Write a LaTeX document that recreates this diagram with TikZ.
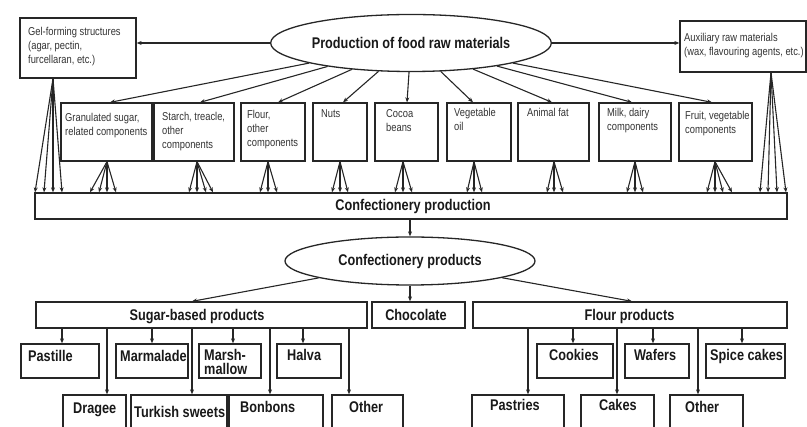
\documentclass[tikz,border=0pt]{standalone}
\usepackage{fontspec}
\setmainfont{Liberation Sans}
\newfontfamily\nsans{Liberation Sans}[FakeStretch=0.82]
\usetikzlibrary{arrows.meta,shapes.geometric,fit}
\tikzset{
  bx/.style={draw=black!85, line width=1.3pt, inner sep=0pt},
  arr/.style={draw=black!85, line width=1.1pt, -{Stealth[length=5pt,width=4pt]}},
  small/.style={font=\nsans\fontsize{11.4}{14}\selectfont, inner sep=0pt, align=left, anchor=north west, text=black!80},
  big/.style={font=\nsans\bfseries\fontsize{15.5}{14}\selectfont, inner sep=0pt, text=black!90},
  ell/.style={ellipse, draw=black!85, line width=1.3pt, inner sep=0pt}
}
\newcommand\bxn[5]{\node[bx, fit={(#2,#3) (#4,#5)}] (#1) {};}
\begin{document}
\begin{tikzpicture}[x=1pt,y=-1pt]
\useasboundingbox (0,0) rectangle (807,427);
\clip (0,0) rectangle (807,427);
% top ellipse
\node[ell, big, minimum width=279pt, minimum height=57pt] (pe) at (411,43) {Production of food raw materials};
% side boxes
\bxn{gel}{20}{18}{136}{78}
\bxn{aux}{680}{21}{806}{72}
\node[small] (tgel) at (28,27.5) {Gel-forming structures\\(agar, pectin,\\furcellaran, etc.)};
\node[small] (taux) at (684,33.5) {Auxiliary raw materials\\(wax, flavouring agents, etc.)};
% raw material boxes
\bxn{r1}{61}{103}{152}{161}
\bxn{r2}{154}{103}{234}{161}
\bxn{r3}{241}{103}{305}{161}
\bxn{r4}{313}{103}{367}{161}
\bxn{r5}{375}{103}{438}{161}
\bxn{r6}{447}{103}{511}{161}
\bxn{r7}{518}{103}{589}{161}
\bxn{r8}{599}{103}{671}{161}
\bxn{r9}{679}{103}{752}{161}
\node[small] (t1) at (65,113.5) {Granulated sugar,\\related components};
\node[small] (t2) at (162,112.5) {Starch, treacle,\\other\\components};
\node[small] (t3) at (247,110.5) {Flour,\\other\\components};
\node[small] (t4) at (321,109.5) {Nuts};
\node[small] (t5) at (386,109.5) {Cocoa\\beans};
\node[small] (t6) at (454,108.5) {Vegetable\\oil};
\node[small] (t7) at (527,108.5) {Animal fat};
\node[small] (t8) at (607,108.5) {Milk, dairy\\components};
\node[small] (t9) at (685,111.5) {Fruit, vegetable\\components};
% production bar
\bxn{bar}{35}{193}{787}{219}
\node[big] (bart) at (413,206) {Confectionery production};
% arrows from top ellipse
\draw[arr] (pe.west) -- (gel.east |- pe.west);
\draw[arr] (pe.east) -- (aux.west |- pe.east);
\foreach \n/\x in {r1/110,r2/200,r3/278,r4/343,r5/407,r6/473,r7/552,r8/632,r9/712}
  \draw[arr] (pe) -- (\n.north -| \x,0);
% fans into the bar
\foreach \n/\a/\ends in {gel/53/{35,44,53,62},r1/107/{90,99,107,116},r2/197/{189,197,206,213},
    r3/268/{260,268,277},r4/340/{332,340,348},r5/403/{395,403,412},r6/474/{467,474,482},
    r7/554/{547,554,563},r8/635/{627,635,643},r9/715/{707,715,723,732},aux/771/{760,768,777,786}}{
  \foreach \e in \ends
    \draw[arr] (\n.south -| \a,0) -- (bar.north -| \e,0);
}
% products ellipse
\node[ell, big, minimum width=250pt, minimum height=48pt] (cp) at (410,261) {Confectionery products};
\draw[arr] (bar.south -| cp.north) -- (cp.north);
% product groups
\bxn{sug}{36}{302}{367}{328}
\bxn{choc}{372}{302}{465}{328}
\bxn{flo}{473}{302}{787}{328}
\node[big, anchor=base] (tsug) at (197,320.5) {Sugar-based products};
\node[big, anchor=base] (tchoc) at (416,320.5) {Chocolate};
\node[big, anchor=base] (tflo) at (629.5,320.5) {Flour products};
\draw[arr] (cp) -- (sug.north -| 192,0);
\draw[arr] (cp.south) -- (choc.north -| cp.south);
\draw[arr] (cp) -- (flo.north -| 632,0);
% sugar-based children
\bxn{pas}{21}{344}{99}{378}
\bxn{mar}{116}{344}{188}{378}
\bxn{msh}{199}{344}{261}{378}
\bxn{hal}{277}{344}{341}{378}
\bxn{dra}{63}{395}{126}{440}
\bxn{tur}{131}{395}{227}{440}
\bxn{bon}{229}{395}{323}{440}
\bxn{oth}{332}{395}{403}{440}
\node[big, anchor=base west] (tpas) at (28,361.5) {Pastille};
\node[big, anchor=base west] (tmar) at (120,361.5) {Marmalade};
\node[big, anchor=north west, align=left] (tmsh) at (204,349.4) {Marsh-\\mallow};
\node[big, anchor=base west] (thal) at (287,360.5) {Halva};
\node[big, anchor=base west] (tdra) at (73,413.5) {Dragee};
\node[big, anchor=base west] (ttur) at (134,417.5) {Turkish sweets};
\node[big, anchor=base west] (tbon) at (240,412.5) {Bonbons};
\node[big, anchor=base west] (toth) at (349,412.5) {Other};
\foreach \n/\x in {pas/62,mar/152,msh/233,hal/303,dra/107,tur/192,bon/270,oth/349}
  \draw[arr] (sug.south -| \x,0) -- (\n.north -| \x,0);
% flour children
\bxn{coo}{537}{344}{613}{378}
\bxn{waf}{625}{344}{689}{378}
\bxn{spi}{706}{344}{785}{378}
\bxn{pst}{472}{395}{564}{440}
\bxn{cak}{581}{395}{654}{440}
\bxn{otf}{670}{395}{743}{440}
\node[big, anchor=base west] (tcoo) at (549,360.5) {Cookies};
\node[big, anchor=base west] (twaf) at (634,360.5) {Wafers};
\node[big, anchor=base west] (tspi) at (710,360.5) {Spice cakes};
\node[big, anchor=base west] (tpst) at (490,410.5) {Pastries};
\node[big, anchor=base west] (tcak) at (599,410.5) {Cakes};
\node[big, anchor=base west] (totf) at (685,412.5) {Other};
\foreach \n/\x in {coo/573,waf/653,spi/742,pst/528,cak/617,otf/698}
  \draw[arr] (flo.south -| \x,0) -- (\n.north -| \x,0);
\end{tikzpicture}
\end{document}
